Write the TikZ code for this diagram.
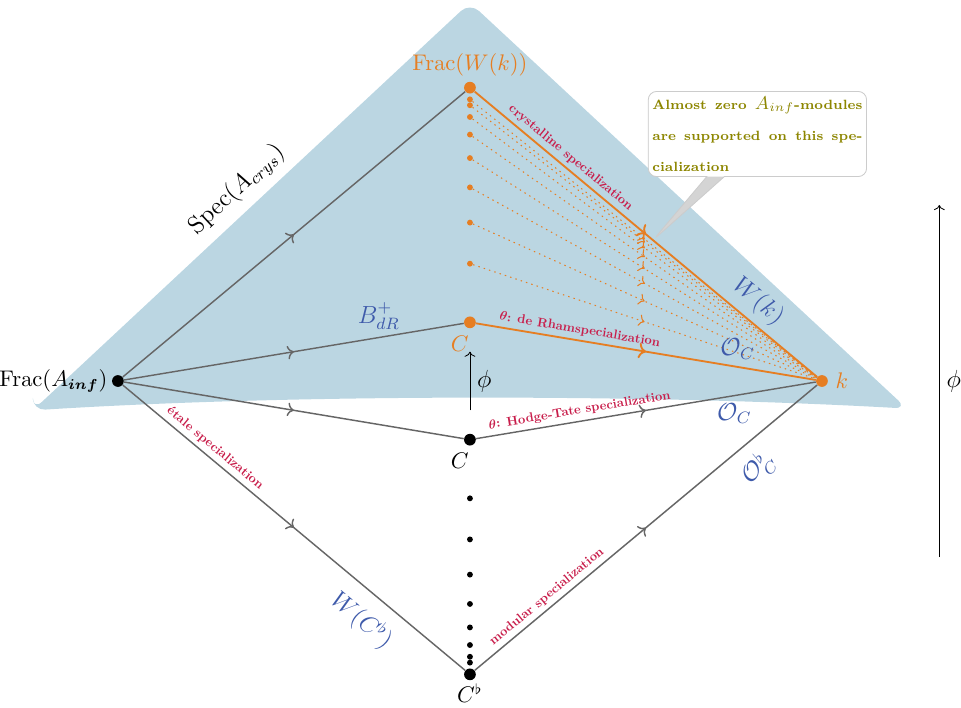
\documentclass[tikz,border=0pt]{standalone}
\usepackage{amsmath}
\usetikzlibrary{positioning,arrows.meta,calc,decorations.markings,shapes.callouts}

\definecolor{specblue}{RGB}{187,214,226}
\definecolor{orng}{RGB}{230,126,34}
\definecolor{lblue}{RGB}{62,90,170}
\definecolor{crim}{RGB}{200,30,75}

\begin{document}
\begin{tikzpicture}[
    bigdot/.style={circle, fill, inner sep=0pt, minimum size=2mm},
    smalldot/.style={circle, fill, inner sep=0pt, minimum size=1mm},
    edge/.style={draw=black!60, line width=0.7pt, postaction={decorate},
        decoration={markings, mark=at position 0.5 with {\arrow{>}}}},
    oedge/.style={edge, draw=orng, line width=0.9pt},
    dedge/.style={edge, draw=orng, dotted, line width=0.5pt},
    spec/.style={font=\bfseries, scale=0.62, text=crim, sloped},
    lbl/.style={text=lblue, font=\large},
    ptlbl/.style={font=\fontsize{10.5}{13}\selectfont},
    note/.style={rectangle callout, rounded corners=4pt, draw=black!20, fill=black!17,
        path picture={\fill[white] ([yshift=-1.45cm]path picture bounding box.north west)
            rectangle (path picture bounding box.north east);},
        minimum height=1.45cm, callout pointer width=0.3cm,
        text width=3.58cm, inner sep=2pt, align=justify, text=olive,
        font=\fontsize{6.5}{15}\selectfont\bfseries}
]
\useasboundingbox (-8.01,-5.573) rectangle (8.37,6.494);

% Spec(A_crys)
\fill[specblue, rounded corners=6pt] (-7.45,-0.5) -- (0,6.45) -- (7.45,-0.47)
    .. controls (3,-0.22) and (-3,-0.22) .. (-7.45,-0.5) -- cycle;
\node[rotate=43, font=\large] (spec) at (-3.97,3.26) {$\mathrm{Spec}(A_{crys})$};

% Punkte
\node[bigdot, label={[ptlbl, label distance=-1.5pt]left:$\mathrm{Frac}(A_{\boldsymbol{inf}})$}] (Ainf) at (-6,0) {};
\node[bigdot, orng, label={[ptlbl, text=orng, label distance=-1pt]above:$\mathrm{Frac}(W(k))$}] (FW) at (0,5) {};
\node[bigdot, orng, label={[ptlbl, text=orng, xshift=-5pt]below:$C$}] (Cr) at (0,1) {};
\node[bigdot, orng, label={[ptlbl, text=orng]right:$k$}] (k) at (6,0) {};
\node[bigdot, label={[ptlbl, xshift=-5pt]below:$C$}] (Cb) at (0,-1) {};
\node[bigdot, label={[ptlbl, label distance=-2pt]below:$C^\flat$}] (Cf) at (0,-5) {};

% Folgen
\foreach \d [count=\i] in {3,2.3,1.7,1.2,0.8,0.5,0.3,0.2} {
    \node[smalldot, orng] (o\i) at (0,5-\d) {};
    \draw[dedge] (o\i) -- (k);
    \node[smalldot] (b\i) at (0,-5+\d) {};
}

% Spezialisierungen
\draw[edge] (Ainf) -- (FW);
\draw[edge] (Ainf) -- node[lbl, pos=0.75, above] {$B_{dR}^{+}$} (Cr);
\draw[edge] (Ainf) -- (Cb);
\draw[edge] (Ainf) -- node[spec, pos=0.25, above] {\'etale specialization}
    node[lbl, pos=0.75, below=3pt, sloped] {$W(C^\flat)$} (Cf);
\draw[oedge] (FW) -- node[spec, pos=0.26, above] {crystalline specialization}
    node[lbl, pos=0.79, above, sloped] {$W(k)$} (k);
\draw[oedge] (Cr) -- node[spec, pos=0.30, above] {$\boldsymbol{\theta}$: de Rhamspecialization}
    node[lbl, pos=0.77, above] {$\mathcal{O}_C$} (k);
\draw[edge] (Cb) -- node[spec, pos=0.31, above] {$\boldsymbol{\theta}$: Hodge-Tate specialization}
    node[lbl, pos=0.76, below] {$\mathcal{O}_C$} (k);
\draw[edge] (Cf) -- node[spec, pos=0.23, above] {modular specialization}
    node[lbl, pos=0.78, below=2pt, sloped] {$\mathcal{O}_C^\flat$} (k);

% Frobenius
\coordinate (phi1) at (0,-0.5);
\coordinate (phi2) at (0,0.5);
\draw[->] (phi1) -- node[right, font=\large] {$\phi$} (phi2);
\coordinate (phi3) at (8,-3);
\coordinate (phi4) at (8,3);
\draw[->] (phi3) -- node[right, font=\large] {$\phi$} (phi4);

% Notiz
\node[note, callout absolute pointer={($(FW)!0.52!(k)$)}] (almost) at (4.9,4.21)
    {Almost zero {\small$A_{inf}$}-modules are supported on this spe\-cialization};
\end{tikzpicture}
\end{document}
